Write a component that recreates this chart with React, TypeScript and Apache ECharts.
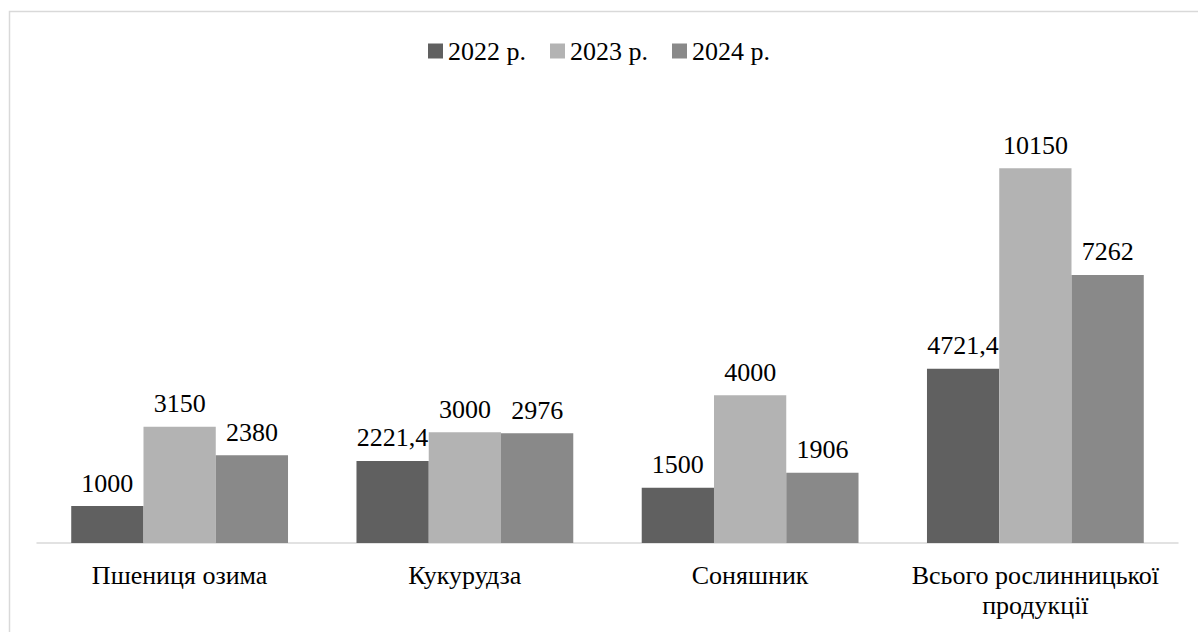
import React, { useEffect, useRef } from "react";
import * as echarts from "echarts";

const categories = ["Пшениця озима", "Кукурудза", "Соняшник", "Всього рослинницької\nпродукції"];
const seriesNames = ["2022 р.", "2023 р.", "2024 р."];
const values2022 = [1000, 2221.4, 1500, 4721.4];
const values2023 = [3150, 3000, 4000, 10150];
const values2024 = [2380, 2976, 1906, 7262];
const colors = ["#606060", "#b3b3b3", "#898989"];

const FONT = "Liberation Serif";
const FS = 26;

export default function App() {
  const ref = useRef<HTMLDivElement>(null);
  useEffect(() => {
    if (!ref.current) return;
    const chart = echarts.init(ref.current, undefined, { renderer: "svg" });
    const fmt = (p: any) => String(p.value).replace(".", ",");
    const data = [values2022, values2023, values2024];
    chart.setOption({
      animation: false,
      backgroundColor: "#ffffff",
      textStyle: { fontFamily: FONT },
      graphic: [
        {
          type: "rect",
          left: 7,
          top: 9,
          shape: { width: 1300, height: 700 },
          style: { fill: "none", stroke: "#d9d9d9", lineWidth: 1.5 },
          silent: true,
        },
      ],
      legend: {
        top: 33,
        left: "center",
        itemWidth: 15,
        itemHeight: 15,
        itemGap: 24,
        icon: "rect",
        textStyle: { fontFamily: FONT, fontSize: FS, color: "#000" },
        data: seriesNames,
      },
      grid: { left: 37, right: 20, top: 100, bottom: 89, containLabel: false },
      xAxis: {
        type: "category",
        data: categories,
        axisLine: { lineStyle: { color: "#d9d9d9", width: 1.5 } },
        axisTick: { show: false },
        axisLabel: {
          fontFamily: FONT,
          fontSize: FS,
          color: "#000",
          margin: 17,
          lineHeight: 30,
          interval: 0,
        },
      },
      yAxis: {
        type: "value",
        min: 0,
        max: 12000,
        show: false,
        splitLine: { show: false },
      },
      series: seriesNames.map((name, i) => ({
        name,
        type: "bar",
        data: data[i],
        barGap: "0%",
        barCategoryGap: "24%",
        itemStyle: { color: colors[i] },
        label: {
          show: true,
          position: "top",
          distance: 10,
          formatter: fmt,
          fontFamily: FONT,
          fontSize: FS,
          color: "#000",
        },
      })),
    });
    return () => chart.dispose();
  }, []);
  return (
    <div
      ref={ref}
      style={{ position: "absolute", left: 0, top: 0, width: 1198, height: 632 }}
    />
  );
}
